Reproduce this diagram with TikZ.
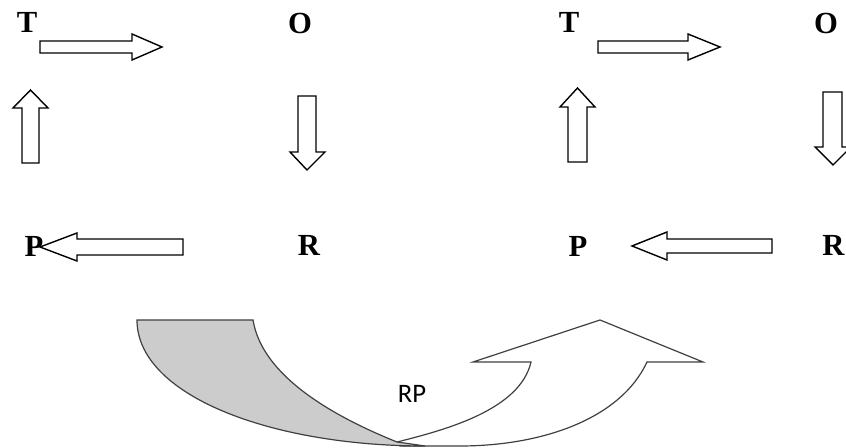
\documentclass[tikz,border=0pt]{standalone}
\usepackage{fontspec}
\setmainfont{Liberation Serif}
\newfontfamily\rpfont{Carlito}
\begin{document}
\begin{tikzpicture}[x=0.75pt,y=-0.75pt,
  letter/.style={font=\fontsize{23}{23}\selectfont\bfseries, inner sep=0pt},
  blk/.style={draw=black, fill=white, line width=1.05pt, line join=miter},
  band/.style={draw=black!75, line width=0.9pt},
  rplabel/.style={font=\rpfont\fontsize{20}{20}\selectfont, inner sep=0pt}]
\useasboundingbox (0,0) rectangle (846,448);
% letters, left cycle
\node[letter] (T1) at (27,22.5) {T};
\node[letter] (O1) at (300,24) {O};
\node[letter] (P1) at (34,246) {P};
\node[letter] (R1) at (309,245.5) {R};
% letters, right cycle
\node[letter] (T2) at (569,22.5) {T};
\node[letter] (O2) at (826,24) {O};
\node[letter] (P2) at (578,246) {P};
\node[letter] (R2) at (833.5,245.5) {R};
% block arrows, left cycle
\draw[blk] (40,41) -- (132,41) -- (132,34) -- (162,47) -- (132,60) -- (132,53) -- (40,53) -- cycle;
\draw[blk] (22,163) -- (22,108) -- (13,108) -- (30.5,90) -- (48,108) -- (39,108) -- (39,163) -- cycle;
\draw[blk] (298,96) -- (316,96) -- (316,152) -- (325,152) -- (307,170) -- (290,152) -- (298,152) -- cycle;
\draw[blk] (183,239) -- (77,239) -- (77,233) -- (40,247) -- (77,261) -- (77,255) -- (183,255) -- cycle;
% block arrows, right cycle
\draw[blk] (598,41) -- (688,41) -- (688,34) -- (720,47) -- (688,60) -- (688,53) -- (598,53) -- cycle;
\draw[blk] (568,162) -- (568,107) -- (560,107) -- (577.5,88) -- (595,107) -- (587,107) -- (587,162) -- cycle;
\draw[blk] (823,92) -- (842,92) -- (842,147) -- (851,147) -- (833,165) -- (815,147) -- (823,147) -- cycle;
\draw[blk] (772,239) -- (667,239) -- (667,232) -- (632,246) -- (667,260) -- (667,253) -- (772,253) -- cycle;
% curved up arrow
\draw[band, fill=white] (397,442) .. controls (445,430) and (520,410) .. (531,362)
  -- (473,362) -- (600,320) -- (703,362) -- (647,362)
  .. controls (620,420) and (540,446) .. (460,446) -- (400,446) -- cycle;
\draw[band, fill=black!20] (137,320) -- (253,320)
  .. controls (262,375) and (330,415) .. (397,442) -- (425,446)
  .. controls (270,446) and (137,395) .. (137,320) -- cycle;
\node[rplabel] (rp) at (412,394) {RP};
\end{tikzpicture}
\end{document}
